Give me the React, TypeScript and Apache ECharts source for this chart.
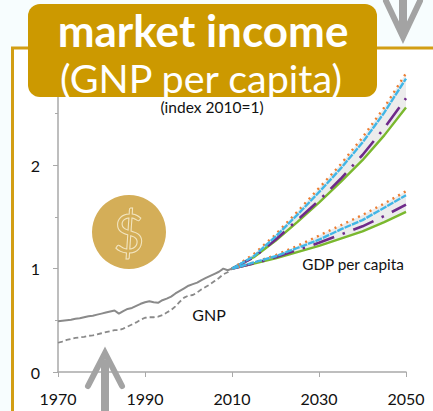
import React, { useEffect, useRef } from "react";
import * as echarts from "echarts";

const FONT = "Lato, 'Open Sans', sans-serif";

const histYears = Array.from({ length: 41 }, (_, i) => String(1970 + i));
const allYears = Array.from({ length: 81 }, (_, i) => String(1970 + i));
const projYears = ["2010", "2015", "2020", "2025", "2030", "2035", "2040", "2045", "2050"];

const gnp = [0.49, 0.495, 0.5, 0.505, 0.515, 0.52, 0.53, 0.54, 0.545, 0.555, 0.565, 0.575, 0.585, 0.595, 0.565, 0.59, 0.61, 0.62, 0.64, 0.66, 0.675, 0.685, 0.675, 0.67, 0.695, 0.71, 0.73, 0.76, 0.785, 0.81, 0.835, 0.85, 0.865, 0.89, 0.91, 0.93, 0.95, 0.97, 1.0, 0.985, 1.0];
const gdp = [0.283, 0.295, 0.31, 0.32, 0.33, 0.335, 0.34, 0.35, 0.355, 0.365, 0.375, 0.385, 0.395, 0.405, 0.405, 0.42, 0.44, 0.46, 0.48, 0.505, 0.525, 0.53, 0.53, 0.535, 0.55, 0.575, 0.6, 0.635, 0.68, 0.72, 0.74, 0.745, 0.77, 0.8, 0.825, 0.85, 0.88, 0.91, 0.945, 0.965, 1.0];

const upOrange = [1, 1.14, 1.33, 1.55, 1.78, 2.01, 2.27, 2.56, 2.89];
const upBlue = [1, 1.12, 1.31, 1.52, 1.74, 1.97, 2.22, 2.51, 2.84];
const upPurple = [1, 1.11, 1.28, 1.47, 1.66, 1.87, 2.1, 2.36, 2.65];
const upGreen = [1, 1.11, 1.27, 1.45, 1.64, 1.84, 2.05, 2.29, 2.56];

const loOrange = [1, 1.06, 1.13, 1.22, 1.32, 1.42, 1.52, 1.63, 1.75];
const loBlue = [1, 1.06, 1.12, 1.2, 1.28, 1.38, 1.47, 1.59, 1.71];
const loPurple = [1, 1.05, 1.11, 1.18, 1.25, 1.33, 1.41, 1.51, 1.62];
const loGreen = [1, 1.05, 1.1, 1.16, 1.22, 1.29, 1.36, 1.45, 1.55];

const GOLD = "#cc9900";
const ORANGE = "#ed7d31";
const BLUE = "#41b6e6";
const PURPLE = "#6f2a8a";
const GREEN = "#7ab82e";
const GREY = "#8a8a8a";

const pairs = (xs: string[], ys: number[]) => xs.map((x, i) => [x, ys[i]]);

function bandSeries(name: string, low: number[], high: number[]) {
  return [
    {
      type: "line", name: name + " base", stack: name, symbol: "none",
      data: pairs(projYears, low), lineStyle: { opacity: 0 }, z: 2,
    },
    {
      type: "line", name: name + " band", stack: name, symbol: "none",
      data: pairs(projYears, high.map((v, i) => v - low[i])),
      lineStyle: { opacity: 0 }, areaStyle: { color: "#ececec", opacity: 1 }, z: 2,
    },
  ];
}

function scenarioSeries(orange: number[], blue: number[], purple: number[], green: number[]) {
  const line = (data: number[], color: string, width: number, type: any, cap: any, z: number) => ({
    type: "line", symbol: "none", data: pairs(projYears, data), z,
    lineStyle: { color, width, type, cap },
  });
  return [
    line(green, GREEN, 2.4, "solid", "butt", 3),
    line(purple, PURPLE, 2.6, [22, 9, 2.5, 9], "butt", 4),
    line(orange, ORANGE, 2.4, [2, 4.5], "butt", 5),
    line(blue, BLUE, 2.4, [7, 1], "butt", 6),
  ];
}

export default function App() {
  const ref = useRef<HTMLDivElement>(null);
  useEffect(() => {
    document.body.style.margin = "0";
    const chart = echarts.init(ref.current!, undefined, { renderer: "svg" });
    const arrow = { stroke: "#a3a3a3", lineWidth: 6, fill: "none", lineCap: "round", lineJoin: "miter" };
    chart.setOption({
      animation: false,
      backgroundColor: "#f7fdfe",
      grid: { left: 58, right: 27, top: 62, bottom: 39 },
      xAxis: {
        type: "category", data: allYears, boundaryGap: false,
        axisLine: { lineStyle: { color: "#a9a9a9", width: 1.5 } },
        axisTick: { interval: 19, length: 5, lineStyle: { color: "#a9a9a9" } },
        axisLabel: { interval: 19, color: "#111", fontFamily: FONT, fontSize: 16, margin: 18 },
        splitLine: { show: false },
      },
      yAxis: {
        type: "value", min: 0, max: 3, interval: 1,
        axisLine: { show: true, lineStyle: { color: "#a9a9a9", width: 1.5 } },
        axisTick: { show: true, length: 5, lineStyle: { color: "#a9a9a9" } },
        minorTick: { show: true, splitNumber: 2, length: 3, lineStyle: { color: "#a9a9a9" } },
        axisLabel: { color: "#111", fontFamily: FONT, fontSize: 16, margin: 18 },
        splitLine: { show: false },
      },
      series: [
        ...bandSeries("upper", upGreen, upOrange),
        ...bandSeries("lower", loGreen, loOrange),
        ...scenarioSeries(upOrange, upBlue, upPurple, upGreen),
        ...scenarioSeries(loOrange, loBlue, loPurple, loGreen),
        {
          type: "line", name: "GNP", symbol: "none", data: pairs(histYears, gnp), z: 7,
          lineStyle: { color: GREY, width: 2 },
        },
        {
          type: "line", name: "GDP", symbol: "none", data: pairs(histYears, gdp), z: 7,
          lineStyle: { color: GREY, width: 1.8, type: [5, 3] },
        },
      ],
      graphic: [
        { type: "rect", z: -2, shape: { x: 0, y: 0, width: 433, height: 411 }, style: { fill: "#f7fdfe" } },
        { type: "rect", z: -1, shape: { x: 12.5, y: 48, width: 430, height: 380 }, style: { fill: "#ffffff", stroke: "#d29e14", lineWidth: 3 } },
        { type: "circle", z: 1, shape: { cx: 129, cy: 232, r: 37 }, style: { fill: "#d4ae58" } },
        { type: "text", z: 2, x: 129, y: 232, style: { text: "$", fill: "none", stroke: "#f3e6c2", lineWidth: 1, font: `54px ${FONT}`, align: "center", verticalAlign: "middle" } },
        { type: "polyline", z: 20, shape: { points: [[386, 1], [403, 37], [420, 1]] }, style: arrow },
        { type: "line", z: 20, shape: { x1: 403, y1: 0, x2: 403, y2: 30 }, style: { stroke: "#a3a3a3", lineWidth: 8 } },
        { type: "polyline", z: 20, shape: { points: [[88, 386], [105, 353], [122, 386]] }, style: arrow },
        { type: "line", z: 20, shape: { x1: 105, y1: 360, x2: 105, y2: 411 }, style: { stroke: "#a3a3a3", lineWidth: 8 } },
        { type: "rect", z: 30, shape: { x: 28, y: 4, width: 349, height: 93, r: 12 }, style: { fill: GOLD } },
        { type: "text", z: 31, x: 203, y: 30, style: { text: "market income", fill: "#fff", font: `bold 44px ${FONT}`, align: "center", verticalAlign: "middle" } },
        { type: "text", z: 31, x: 201, y: 77, style: { text: "(GNP per capita)", fill: "#fff", font: `39.5px ${FONT}`, align: "center", verticalAlign: "middle" } },
        { type: "text", z: 31, x: 212, y: 107, style: { text: "(index 2010=1)", fill: "#111", font: `15.5px ${FONT}`, align: "center", verticalAlign: "middle" } },
        { type: "text", z: 31, x: 353, y: 264, style: { text: "GDP per capita", fill: "#111", font: `15.3px ${FONT}`, align: "center", verticalAlign: "middle" } },
        { type: "text", z: 31, x: 209, y: 314, style: { text: "GNP", fill: "#111", font: `16px ${FONT}`, align: "center", verticalAlign: "middle" } },
      ],
    });
    return () => chart.dispose();
  }, []);
  return <div ref={ref} style={{ width: 433, height: 411 }} />;
}
